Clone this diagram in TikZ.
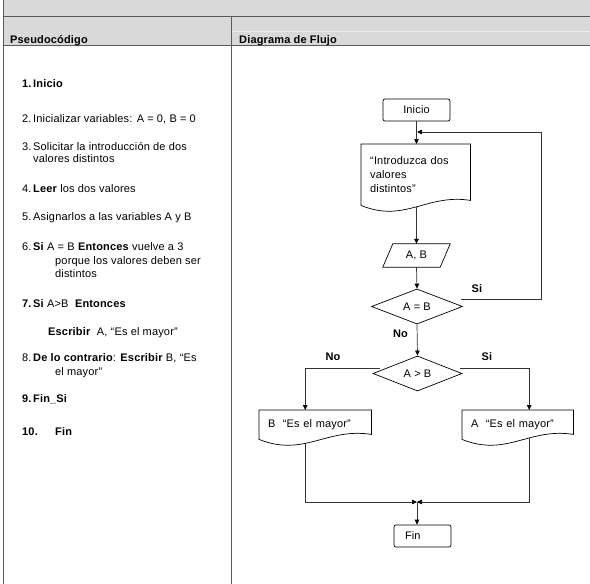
\documentclass[tikz,border=0pt]{standalone}
\usepackage{fontspec}
\setmainfont[LetterSpace=1.5]{Liberation Sans}
\usetikzlibrary{arrows.meta,calc,shapes.geometric}
\definecolor{hdrgrey}{HTML}{D9D9D9}
\definecolor{rulegrey}{HTML}{5A5A5A}
\definecolor{conngrey}{HTML}{333333}
\newcommand\itm[1]{\makebox[11pt][l]{#1}}
\newcommand\docpath[1]{\draw[shp] (#1.south west) -- (#1.north west) -- (#1.north east) -- ($(#1.south east)+(0,-5)$) .. controls ($(#1.south east)!0.4!(#1.south west)+(0,-12)$) and ($(#1.south east)!0.6!(#1.south west)+(0,18)$) .. (#1.south west) -- cycle;}
\tikzset{
  tline/.style={draw=rulegrey, line width=1pt},
  ptxt/.style={anchor=base west, inner sep=0pt, font=\fontsize{11}{13}\selectfont},
  shp/.style={draw=black, line width=0.7pt},
  conn/.style={draw=conngrey, line width=0.7pt},
  arr/.style={conn, -{Triangle[length=5pt,width=4.5pt,color=black]}},
  lbl/.style={font=\bfseries\fontsize{11}{13}\selectfont, inner sep=0pt},
  docbox/.style={inner xsep=9pt, inner ysep=0pt, align=left, anchor=north west, font=\fontsize{11}{14}\selectfont},
  termbox/.style={shp, rounded corners=2pt, minimum height=22pt, inner sep=0pt, font=\fontsize{11}{13}\selectfont},
  decbox/.style={shp, diamond, inner sep=0pt, minimum height=33pt, font=\fontsize{11}{13}\selectfont}
}
\begin{document}
\begin{tikzpicture}[x=1pt,y=-1pt]
\useasboundingbox (0,0) rectangle (590,584);
% table
\fill[hdrgrey] (3,0) rectangle (590,45);
\draw[draw=white!92!black, line width=0.8pt] (232,31.5) -- (590,31.5);
\draw[tline] (3,16) -- (590,16);
\draw[tline] (3,45) -- (590,45);
\draw[tline] (3.5,0) -- (3.5,584);
\draw[tline] (231.5,16) -- (231.5,584);
\node[ptxt, font=\bfseries\fontsize{11}{13}\selectfont] (h1) at (10,43) {Pseudocódigo};
\node[ptxt, font=\bfseries\fontsize{11}{13}\selectfont] (h2) at (239,43) {Diagrama de Flujo};
% pseudocode
\node[ptxt] (p1) at (22,87.5) {\bfseries\itm{1.}Inicio};
\node[ptxt] (p2) at (22,122.5) {\itm{2.}Inicializar variables: A = 0, B = 0};
\node[ptxt] (p3a) at (22,150.5) {\itm{3.}Solicitar la introducción de dos};
\node[ptxt] (p3b) at (33,162.5) {valores distintos};
\node[ptxt] (p4) at (22,192.5) {\itm{4.}\textbf{Leer} los dos valores};
\node[ptxt] (p5) at (22,220.5) {\itm{5.}Asignarlos a las variables A y B};
\node[ptxt] (p6a) at (22,250.5) {\itm{6.}\textbf{Si} A = B \textbf{Entonces} vuelve a 3};
\node[ptxt] (p6b) at (55,264.5) {porque los valores deben ser};
\node[ptxt] (p6c) at (55,277.5) {distintos};
\node[ptxt] (p7) at (22,307.5) {\textbf{\itm{7.}Si} A>B\ \ \textbf{Entonces}};
\node[ptxt] (p7b) at (48,335.5) {\textbf{Escribir}\ \ A, “Es el mayor”};
\node[ptxt] (p8a) at (22,361.5) {\itm{8.}\textbf{De lo contrario}: \textbf{Escribir} B, “Es};
\node[ptxt] (p8b) at (55,375.5) {el mayor”};
\node[ptxt] (p9) at (22,402.5) {\bfseries\itm{9.}Fin\_Si};
\node[ptxt] (p10) at (22,435.5) {\bfseries\makebox[33pt][l]{10.}Fin};
% flowchart
\node[termbox, minimum width=67pt] (inicio) at (416.5,110) {Inicio};
\node[docbox, text width=91pt, minimum height=61pt] (doc1) at (361,144) {“Introduzca dos\\valores\\distintos”};
\docpath{doc1}
\node[inner sep=0pt, minimum width=57pt, minimum height=23pt, font=\fontsize{11}{13}\selectfont] (para) at (416.5,255.5) {A, B};
\draw[shp] ($(para.north west)+(5,0)$) -- ($(para.north east)+(5,0)$) -- ($(para.south east)+(-5,0)$) -- ($(para.south west)+(-5,0)$) -- cycle;
\node[decbox, minimum width=91pt] (d1) at (417,306.5) {A = B};
\node[decbox, minimum width=89pt] (d2) at (417.5,373.5) {A > B};
\node[docbox, text width=94pt, minimum height=29pt] (bB) at (259,410) {B\ \ “Es el mayor”};
\docpath{bB}
\node[docbox, text width=93pt, minimum height=29pt] (bA) at (462,410) {A\ \ “Es el mayor”};
\docpath{bA}
\node[termbox, minimum width=57pt, text width=35pt, inner xsep=11pt, align=left] (fin) at (422.5,536) {Fin};
\coordinate (loopin) at (417,132);
\coordinate (jn) at (417,502);
% connectors
\draw[arr] (inicio.south) -- (inicio.south |- doc1.north);
\draw[arr] ($(para.north |- doc1.south)+(0,1.5)$) -- (para.north);
\draw[arr] (para.south) -- (d1.north);
\draw[arr] (d1.south) -- (d2.north);
\draw[arr] ($(d1.east)+(-2,-7)$) -- ++(80,0) |- (loopin);
\draw[arr] ($(d2.west)+(7,-5)$) -| ($(bB.north)+(-10,0)$);
\draw[arr] ($(d2.east)+(-2,-5)$) -| ($(bA.north)+(11.5,0)$);
\draw[arr] ($(bB.south)+(-10,4)$) |- (jn);
\draw[arr] ($(bA.south)+(11.5,-1)$) |- (jn);
\draw[arr] (jn) -- (jn |- fin.north);
% labels
\node[lbl] (si1) at (477,289) {Si};
\node[lbl] (no1) at (400.5,334) {No};
\node[lbl] (no2) at (333,357) {No};
\node[lbl] (si2) at (487,357) {Si};
\end{tikzpicture}
\end{document}
